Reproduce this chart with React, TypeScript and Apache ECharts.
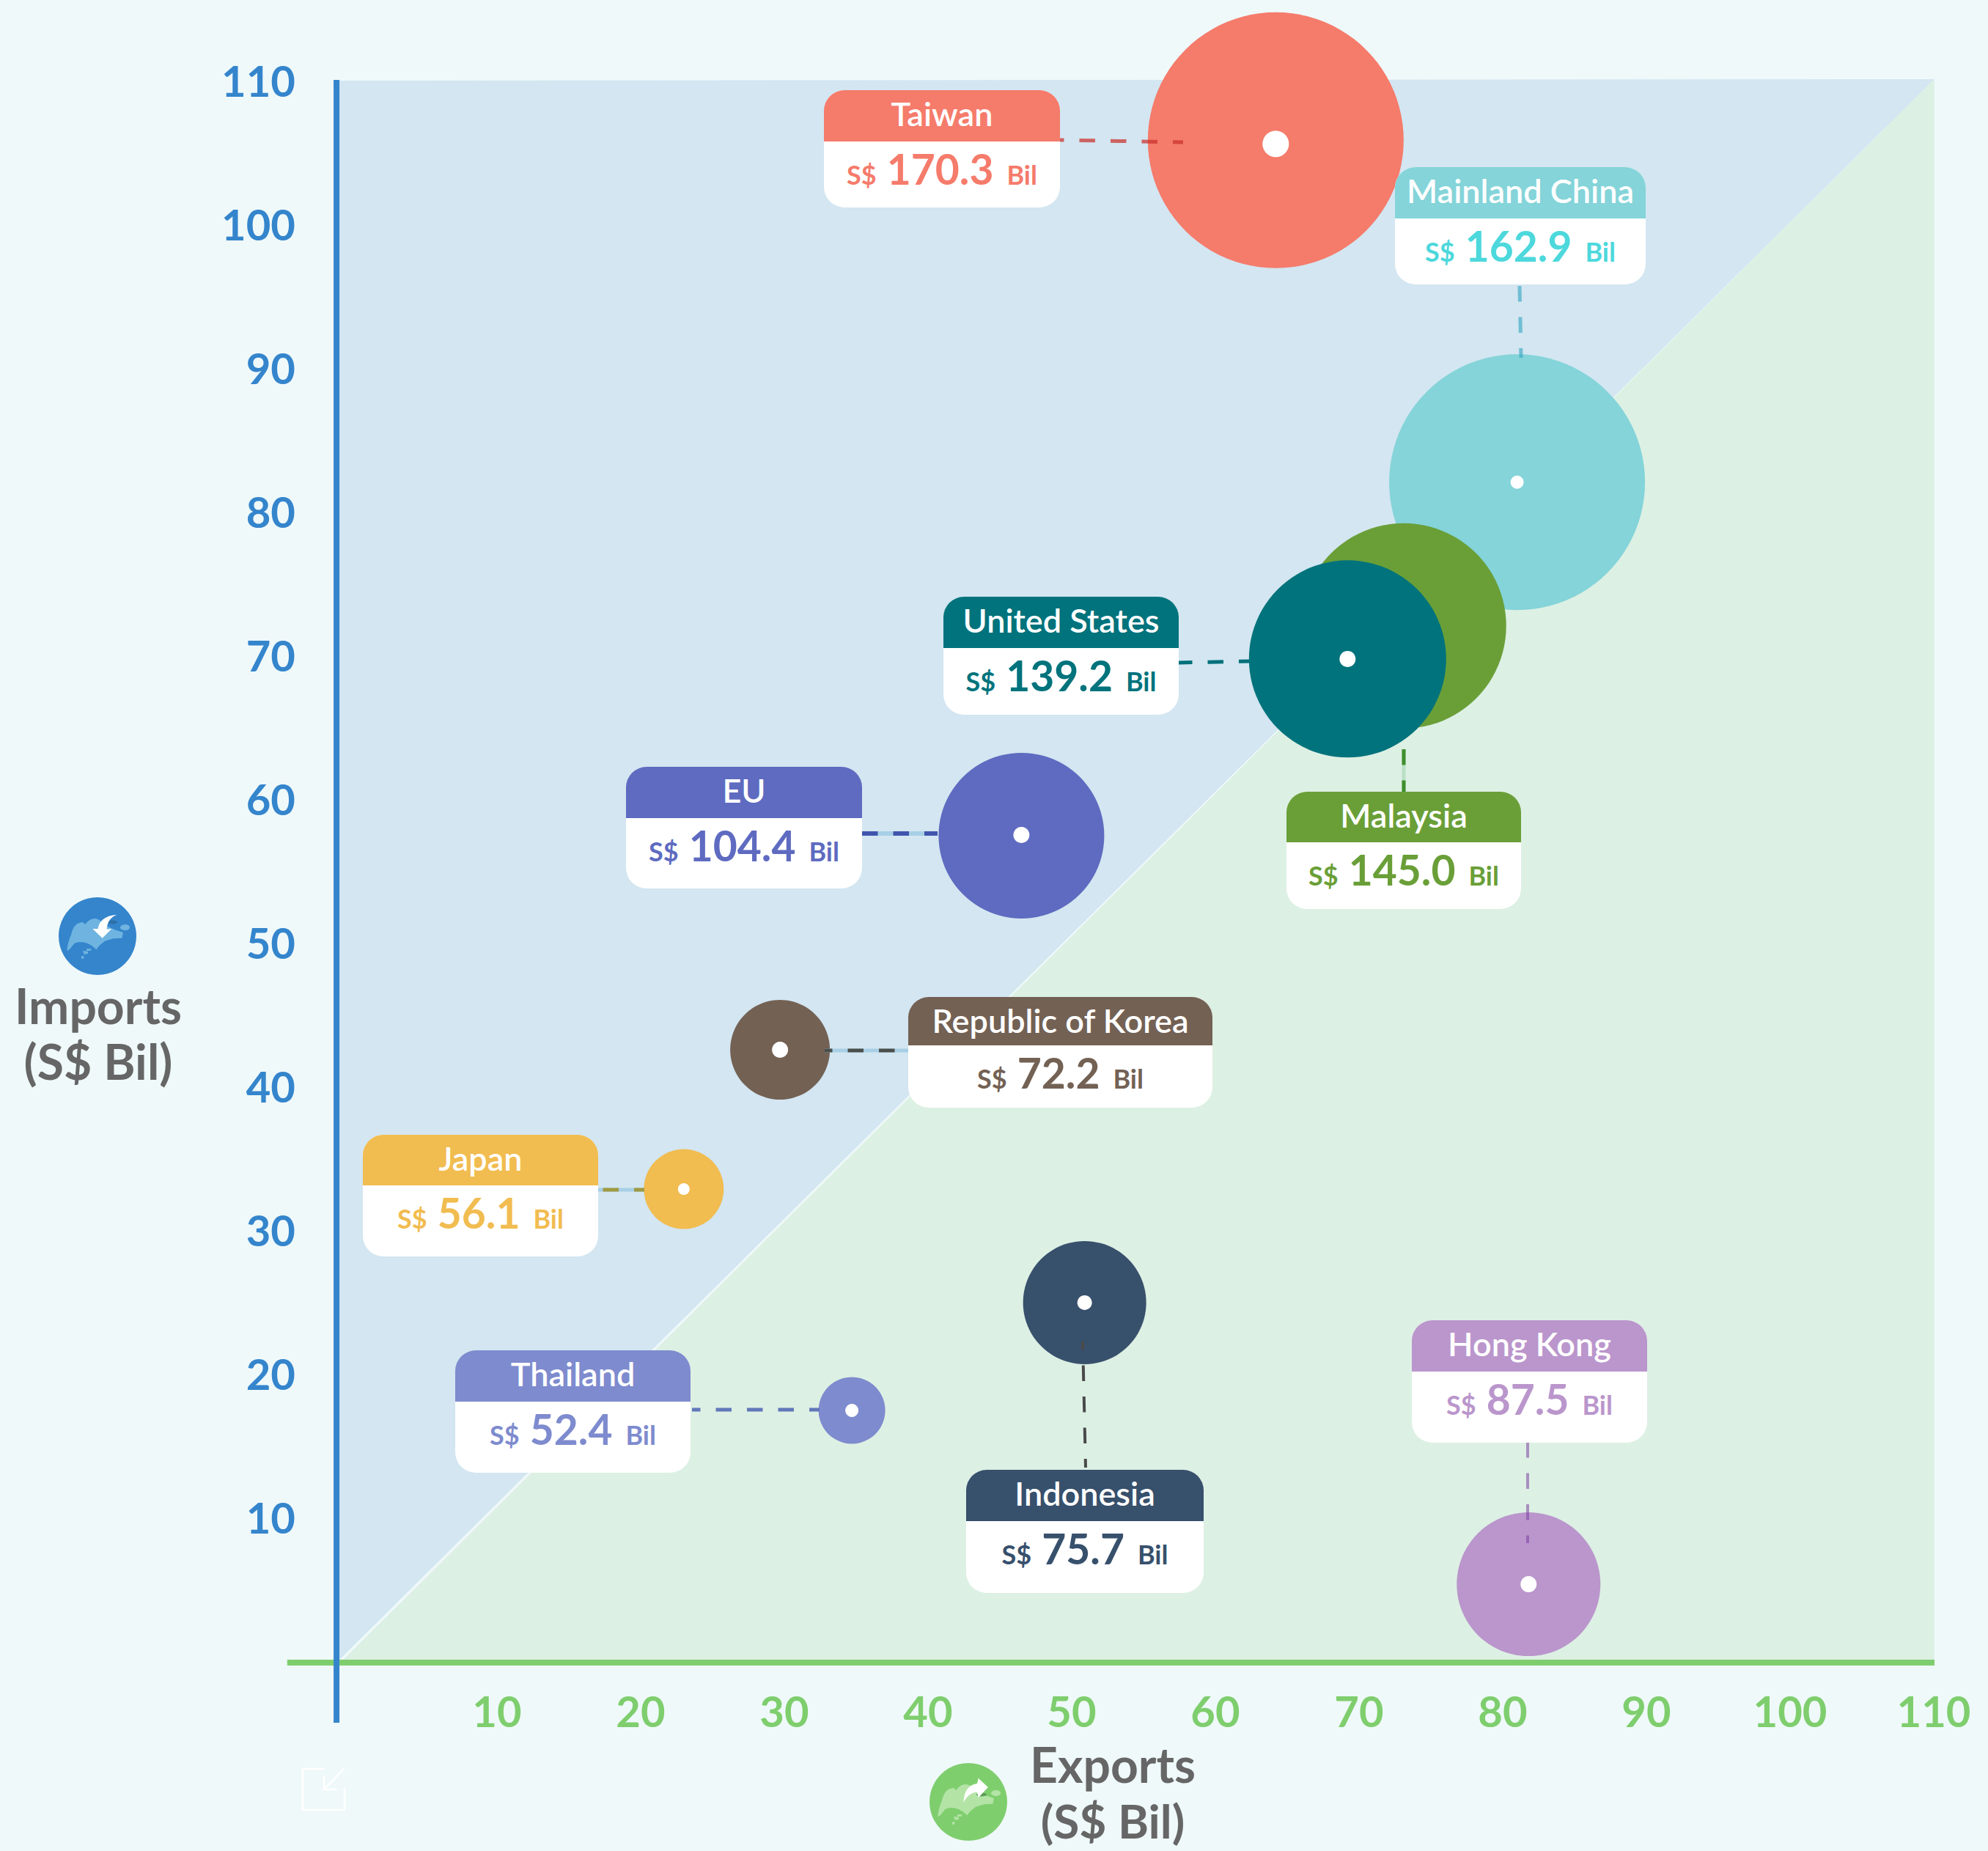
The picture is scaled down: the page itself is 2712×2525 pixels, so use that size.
import React, { useEffect, useRef } from "react";
import * as echarts from "echarts";

// ---------- data (S$ billion) ----------
const partners = ["Taiwan", "Mainland China", "Malaysia", "United States", "EU", "Republic of Korea", "Japan", "Indonesia", "Thailand", "Hong Kong"];
const exportsBil = [64.2, 81.0, 73.1, 69.2, 46.5, 29.7, 23.0, 50.9, 34.7, 81.8];
const importsBil = [105.8, 82.0, 72.0, 69.7, 57.4, 42.5, 32.8, 24.9, 17.4, 5.3];
const totalsBil = ["170.3", "162.9", "145.0", "139.2", "104.4", "72.2", "56.1", "75.7", "52.4", "87.5"];
const axisMax = 110;
const axisStep = 10;

// ---------- styling ----------
const bubbleDiameters = [349, 349, 280, 269, 226, 136, 109, 168, 91, 196];
const dotDiameters = [36, 18, 20, 22, 22, 22, 16, 20, 18, 22];
const dotShiftY = [5, 0, 0, 0, -1, 0, 0, 0, 0, 0];
const bubbleColors = ["#F57B6B", "#84D4D9", "#6A9F38", "#00737C", "#5E6BC0", "#736154", "#F1BC50", "#37506C", "#7E8BCE", "#BA96CC"];
const valueColors = ["#F57B6B", "#4DD8DC", "#6A9F38", "#00737C", "#5E6BC0", "#736154", "#F1BC50", "#37506C", "#7E8BCE", "#BA96CC"];
// left, top, right, divider, bottom (page pixels)
const cardBoxes = [
  [1124, 123, 1446, 193, 283],
  [1903, 228, 2245, 298, 388],
  [1755, 1080, 2075, 1149, 1240],
  [1287, 814, 1608, 884, 975],
  [854, 1046, 1176, 1116, 1212],
  [1239, 1360, 1654, 1426, 1511],
  [495, 1548, 816, 1617, 1714],
  [1318, 2005, 1642, 2075, 2173],
  [621, 1842, 942, 1912, 2009],
  [1926, 1801, 2247, 1871, 1968],
];
// x1, y1, x2, y2, dash offset, colour, opacity, width, underlay colour
type Leader = [number, number, number, number, number, string, number, number, string | null];
const leaders: Leader[] = [
  [1445, 191, 1614, 194, 15, "#C9312A", 0.72, 5, null],
  [2073, 390, 2075, 488, 0, "#2FA3BF", 0.6, 5, null],
  [1915, 1022, 1915, 1080, 0, "#3F8F2C", 1, 5, "#B8E0C5"],
  [1608, 904, 1704, 902, 3, "#00707B", 1, 5, null],
  [1176, 1137, 1279, 1137, 0, "#3F55AE", 1, 6, "#A8CFE6"],
  [1125, 1433, 1239, 1433, 11, "#4B4F4B", 1, 5, "#A8CFE6"],
  [816, 1623, 879, 1623, 36, "#A09A40", 1, 5, "#A8CFE6"],
  [1477, 1830, 1481, 2002, 10, "#4A4A4A", 1, 4, null],
  [944, 1923, 1118, 1923, 10, "#6178B8", 1, 5, null],
  [2084, 1967, 2084, 2105, 0, "#7A3FA0", 0.55, 4, null],
];

const FONT = "Lato, 'Noto Sans', sans-serif";
const BG = "#EFF9FA";
const BLUE = "#3485CC";
const GREEN = "#7FCE6E";
const GREY = "#666666";
const BLUE_ZONE = "#D3E6F1";
const GREEN_ZONE = "#DDF0E4";

const GRID = { left: 482, top: 109, width: 2156, height: 2156 };

// Axis furniture in axis units (the drawn lines sit just off the scale origin).
const yLine = [[-1.17, -4.34], [-1.17, 110]];
const xLine = [[-4.6, -0.15], [110.05, -0.15]];
const blueZone = [[-1.17, -0.15], [-1.17, 109.95], [110.05, 110.05]];
const greenZone = [[-0.9, -0.15], [110.05, 110.05], [110.05, -0.15]];

const SG_MAP =
  "M-125 60 C-122 30 -115 10 -108 -5 C-104 -25 -95 -45 -80 -52 L-62 -58 L-50 -48 C-40 -62 -25 -72 -12 -72 C5 -72 15 -60 25 -50 L50 -35 L75 -25 L105 -15 L100 8 L65 10 L30 20 L8 38 L-5 55 L-22 40 L-40 30 C-60 22 -80 22 -95 30 L-115 55 Z " +
  "M94 -38 C100 -50 125 -52 132 -38 C135 -28 120 -22 110 -24 C100 -26 90 -30 94 -38 Z " +
  "M-60 60 L-40 62 L-38 72 L-55 74 Z M-66 82 L-56 82 L-56 92 L-66 92 Z M-45 52 L-25 52 L-28 60 L-45 60 Z";
const ARROW_IN =
  "M80 -88 C30 -85 5 -60 2 -30 L-20 -30 L20 8 L58 -30 L38 -28 C38 -55 55 -80 80 -88 Z";
const ARROW_OUT =
  "M-19 3 C-19 -40 -2 -70 36 -75 L41 -97 L81 -60 L41 -17 L36 -40 C11 -40 -9 -20 -19 3 Z";

echarts.graphic.registerShape("sgMapPath", echarts.graphic.extendPath(SG_MAP, {}) as any);
echarts.graphic.registerShape("arrowInPath", echarts.graphic.extendPath(ARROW_IN, {}) as any);
echarts.graphic.registerShape("arrowOutPath", echarts.graphic.extendPath(ARROW_OUT, {}) as any);

function App() {
  const ref = useRef<HTMLDivElement | null>(null);

  useEffect(() => {
    document.body.style.margin = "0";
    document.body.style.overflow = "hidden";
    document.body.style.background = BG;

    const chart = echarts.init(ref.current!, null, { renderer: "svg" });

    const measure = document.createElement("canvas").getContext("2d")!;
    const widthOf = (text: string, font: string) => {
      measure.font = font;
      return measure.measureText(text).width;
    };
    // Lato's central baseline sits this fraction of the size above the alphabetic one.
    const baselineY = (baseline: number, size: number) => baseline - 0.387 * size;

    const textEl = (text: string, x: number, baseline: number, size: number, weight: any, fill: string, align: string, z = 33) => ({
      type: "text",
      z,
      x,
      y: baselineY(baseline, size),
      silent: true,
      style: { text, fontFamily: FONT, fontSize: size, fontWeight: weight, fill, align, verticalAlign: "middle" },
    });

    const graphics: any[] = [];

    leaders.forEach(([x1, y1, x2, y2, offset, color, opacity, width, underlay]) => {
      if (underlay) {
        graphics.push({
          type: "line", z: 29, silent: true,
          shape: { x1, y1, x2, y2 },
          style: { stroke: underlay, lineWidth: width },
        });
      }
      graphics.push({
        type: "line", z: 30, silent: true,
        shape: { x1, y1, x2, y2 },
        style: { stroke: color, opacity, lineWidth: width, lineDash: [21.5, 21], lineDashOffset: offset },
      });
    });

    partners.forEach((name, i) => {
      const [l, t, r, d, b] = cardBoxes[i];
      const w = r - l;
      const color = bubbleColors[i];
      const valueColor = valueColors[i];
      graphics.push({
        type: "rect", z: 31, silent: true,
        shape: { x: l, y: t, width: w, height: b - t, r: 28 },
        style: { fill: "#FFFFFF" },
      });
      graphics.push({
        type: "rect", z: 32, silent: true,
        shape: { x: l, y: t, width: w, height: d - t, r: [28, 28, 0, 0] },
        style: { fill: color },
      });
      graphics.push(textEl(name, (l + r) / 2, t + 49, 45, 600, "#FFFFFF", "center"));

      const smallFont = `bold 36px ${FONT}`;
      const bigFont = `bold 57px ${FONT}`;
      const wS = widthOf("S$", smallFont);
      const wN = widthOf(totalsBil[i], bigFont);
      const wB = widthOf("Bil", smallFont);
      const gapA = 14;
      const gapB = 18;
      const total = wS + gapA + wN + gapB + wB;
      const start = (l + r) / 2 - total / 2;
      const base = d + 59;
      graphics.push(textEl("S$", start, base, 36, "bold", valueColor, "left"));
      graphics.push(textEl(totalsBil[i], start + wS + gapA, base, 57, "bold", valueColor, "left"));
      graphics.push(textEl("Bil", start + wS + gapA + wN + gapB, base, 36, "bold", valueColor, "left"));
    });

    // Axis titles with their Singapore badges
    const badge = (cx: number, cy: number, fill: string, mapFill: string, arrow: string, shade: string, shadeDx: number, shadeDy: number) => {
      const s = 1 / 3;
      return [
        { type: "circle", z: 31, silent: true, shape: { cx, cy, r: 53 }, style: { fill } },
        { type: "sgMapPath", z: 32, silent: true, x: cx, y: cy, scaleX: s, scaleY: s, style: { fill: mapFill } },
        { type: "ellipse", z: 32, silent: true, shape: { cx: cx + shadeDx, cy: cy + shadeDy, rx: 7, ry: 2.5 }, style: { fill: shade } },
        { type: arrow, z: 33, silent: true, x: cx, y: cy, scaleX: s, scaleY: s, style: { fill: "#FFFFFF" } },
      ];
    };
    graphics.push(...badge(133, 1277, BLUE, "#6FB4E1", "arrowInPath", "#2E6FA8", 20, -19));
    graphics.push(...badge(1321, 2458, GREEN, "#B3E4A6", "arrowOutPath", "#5B9E55", 18, -10));

    graphics.push(textEl("Imports", 134, 1397, 66, "bold", GREY, "center"));
    graphics.push(textEl("(S$ Bil)", 134, 1473, 66, "bold", GREY, "center"));
    graphics.push(textEl("Exports", 1518, 2432, 66, "bold", GREY, "center"));
    graphics.push(textEl("(S$ Bil)", 1518, 2508, 64, "bold", GREY, "center"));

    // Faint "expand" glyph, bottom left
    const icon = { stroke: "#FFFFFF", lineWidth: 2.6, fill: "none", lineCap: "round", lineJoin: "round" };
    graphics.push({ type: "polyline", z: 28, silent: true, shape: { points: [[442, 2413], [413, 2413], [413, 2469], [470, 2469], [470, 2440]] }, style: icon });
    graphics.push({ type: "polyline", z: 28, silent: true, shape: { points: [[469, 2413], [442, 2441]] }, style: icon });
    graphics.push({ type: "polyline", z: 28, silent: true, shape: { points: [[442, 2424], [442, 2441], [459, 2441]] }, style: icon });

    const zoneSeries = (verts: number[][], fill: string, z: number) => ({
      type: "custom",
      z,
      silent: true,
      clip: false,
      coordinateSystem: "cartesian2d",
      data: [verts[0]],
      renderItem: (_p: any, api: any) => ({
        type: "polygon",
        shape: { points: verts.map((v) => api.coord(v)) },
        style: { fill },
      }),
    });

    const axisLineSeries = (ends: number[][], color: string, z: number) => ({
      type: "custom",
      z,
      silent: true,
      clip: false,
      coordinateSystem: "cartesian2d",
      data: [ends[0]],
      renderItem: (_p: any, api: any) => {
        const [a, b] = ends.map((v) => api.coord(v));
        return {
          type: "line",
          shape: { x1: a[0], y1: a[1], x2: b[0], y2: b[1] },
          style: { stroke: color, lineWidth: 8, lineCap: "butt", fill: "none" },
        };
      },
    });

    // Each bubble and its centre dot are stacked together so later bubbles hide earlier dots.
    const bubbleSeries = partners.flatMap((name, i) => {
      const value = [exportsBil[i], importsBil[i], name];
      return [
        {
          type: "scatter", name, z: 4 + i, silent: true, clip: false,
          data: [{ value, symbolSize: bubbleDiameters[i], itemStyle: { color: bubbleColors[i], opacity: 1 } }],
        },
        {
          type: "scatter", name: `${name} centre`, z: 4 + i, silent: true, clip: false,
          symbolOffset: [0, dotShiftY[i]],
          data: [{ value, symbolSize: dotDiameters[i], itemStyle: { color: "#FFFFFF", opacity: 1 } }],
        },
      ];
    });

    chart.setOption({
      animation: false,
      backgroundColor: BG,
      grid: { ...GRID, containLabel: false },
      xAxis: {
        type: "value", min: 0, max: axisMax, interval: axisStep,
        axisLine: { show: false }, axisTick: { show: false }, splitLine: { show: false },
        axisLabel: {
          color: GREEN, fontFamily: FONT, fontSize: 58, fontWeight: "bold", margin: 39,
          formatter: (v: number) => (v === 0 ? "" : String(v)),
        },
      },
      yAxis: {
        type: "value", min: 0, max: axisMax, interval: axisStep,
        axisLine: { show: false }, axisTick: { show: false }, splitLine: { show: false },
        axisLabel: {
          color: BLUE, fontFamily: FONT, fontSize: 58, fontWeight: "bold", margin: 79, align: "right",
          padding: [0, 0, 10, 0],
          formatter: (v: number) => (v === 0 ? "" : String(v)),
        },
      },
      graphic: { elements: graphics },
      series: [
        zoneSeries(blueZone, BLUE_ZONE, 1),
        zoneSeries(greenZone, GREEN_ZONE, 1),
        axisLineSeries(xLine, GREEN, 2),
        axisLineSeries(yLine, BLUE, 3),
        ...bubbleSeries,
      ],
    });

    return () => chart.dispose();
  }, []);

  return <div ref={ref} style={{ position: "absolute", left: 0, top: 0, width: 2712, height: 2525 }} />;
}

export default App;
